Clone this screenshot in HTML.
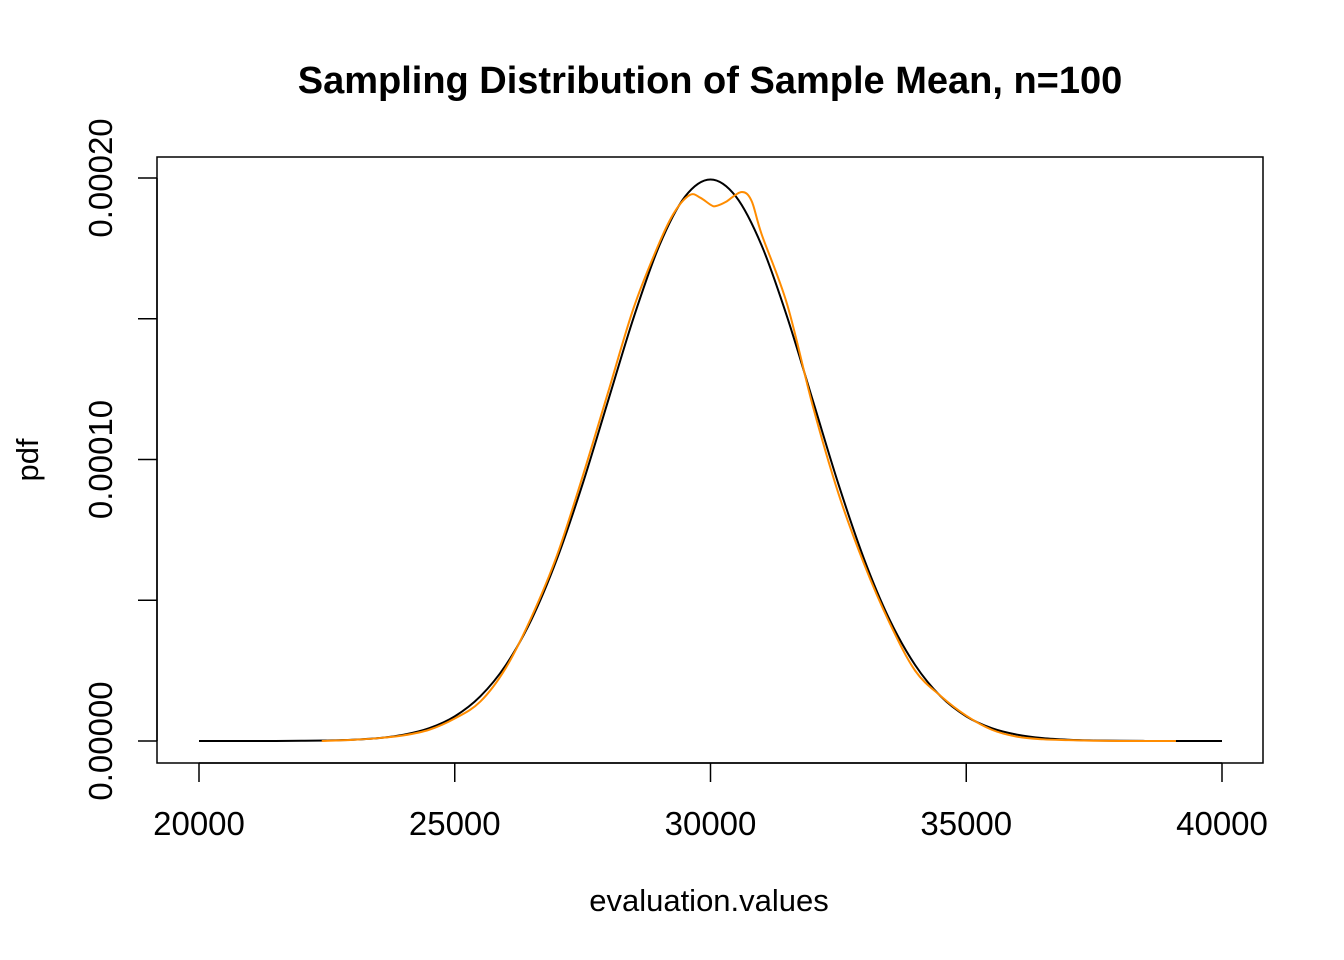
<!DOCTYPE html>
<html><head><meta charset="utf-8"><style>
html,body{margin:0;padding:0;background:#fff;}
svg{display:block;font-family:"Liberation Sans",Arial,sans-serif;}
</style></head><body>
<svg id="chart" width="1344" height="960" viewBox="0 0 1344 960">
<rect width="1344" height="960" fill="#fff"/>
<text x="710" y="93" text-anchor="middle" font-size="38" font-weight="bold">Sampling Distribution of Sample Mean, n=100</text>
<rect x="157" y="157" width="1106" height="606" fill="none" stroke="#000" stroke-width="1.5"/>
<g id="xaxis"></g>
<g id="yaxis"></g>
<text x="709" y="911" text-anchor="middle" font-size="31">evaluation.values</text>
<text transform="translate(38,460) rotate(-90)" text-anchor="middle" font-size="31">pdf</text>
<g id="series"></g>
</svg>
<script>
const xTicks=[20000,25000,30000,35000,40000];
const yTicks=[0,0.00005,0.0001,0.00015,0.0002];
const yTickLabels=["0.00000","","0.00010","","0.00020"];
const normalX=[20000,20500,21000,21500,22000,22500,23000,23500,24000,24500,25000,25500,26000,26500,27000,27500,28000,28500,29000,29500,30000,30500,31000,31500,32000,32500,33000,33500,34000,34500,35000,35500,36000,36500,37000,37500,38000,38500,39000,39500,40000];
const normalY=[0,0,0.00001,0.00002,0.00007,0.00018,0.00044,0.00101,0.00222,0.00454,0.00876,0.01587,0.02700,0.04315,0.06477,0.09132,0.12099,0.15057,0.17603,0.19333,0.19947,0.19333,0.17603,0.15057,0.12099,0.09132,0.06477,0.04315,0.02700,0.01587,0.00876,0.00454,0.00222,0.00101,0.00044,0.00018,0.00007,0.00002,0.00001,0,0].map(v=>v*0.001);
const kdeX=[22400,23000,23500,24000,24500,25000,25500,26000,26500,27000,27500,28000,28500,29000,29300,29600,29800,30000,30100,30300,30600,30800,31000,31500,32000,32500,33000,33500,34000,34500,35000,35500,36000,36500,37000,37500,38000,39100];
const kdeY=[0,0.0004,0.001,0.002,0.004,0.008,0.014,0.026,0.044,0.066,0.094,0.124,0.154,0.177,0.188,0.194,0.193,0.1905,0.190,0.1915,0.195,0.192,0.180,0.155,0.119,0.088,0.063,0.042,0.025,0.016,0.009,0.004,0.0015,0.0006,0.0003,0.0001,0,0].map(v=>v*0.001);
const X=v=>199+(v-20000)*(1222-199)/20000;
const Y=v=>741-v*(741-178)/0.0002;
const NS="http://www.w3.org/2000/svg";
function mk(t,a,p){const e=document.createElementNS(NS,t);for(const k in a)e.setAttribute(k,a[k]);p.appendChild(e);return e;}
const xa=document.getElementById('xaxis'),ya=document.getElementById('yaxis'),se=document.getElementById('series');
mk('line',{x1:X(xTicks[0]),x2:X(xTicks[xTicks.length-1]),y1:763,y2:763,stroke:'#000','stroke-width':1.5},xa);
xTicks.forEach(t=>{
 const l=mk('line',{x1:X(t),x2:X(t),y1:763,y2:782,stroke:'#000','stroke-width':1.5},xa);
 
 
 const tx=mk('text',{x:X(t),y:835,'text-anchor':'middle','font-size':33},xa);tx.textContent=t;
 
 
});
mk('line',{x1:157,x2:157,y1:Y(yTicks[0]),y2:Y(yTicks[yTicks.length-1]),stroke:'#000','stroke-width':1.5},ya);
yTicks.forEach((t,i)=>{
 const l=mk('line',{x1:138,x2:157,y1:Y(t),y2:Y(t),stroke:'#000','stroke-width':1.5},ya);
 
 
 if(yTickLabels[i]){const tx=mk('text',{transform:`translate(112,${Y(t)}) rotate(-90)`,'text-anchor':'middle','font-size':33},ya);tx.textContent=yTickLabels[i];
 
 }
});
function smooth(xs,ys){const p=xs.map((x,i)=>[X(x),Y(ys[i])]);let d=`M${p[0][0]},${p[0][1]}`;
 for(let i=0;i<p.length-1;i++){const a=p[Math.max(0,i-1)],b=p[i],c=p[i+1],e=p[Math.min(p.length-1,i+2)];
 const c1=[b[0]+(c[0]-a[0])/6,b[1]+(c[1]-a[1])/6],c2=[c[0]-(e[0]-b[0])/6,c[1]-(e[1]-b[1])/6];
 d+=`C${c1[0]},${c1[1]} ${c2[0]},${c2[1]} ${c[0]},${c[1]}`;}return d;}
const n=mk('path',{d:smooth(normalX,normalY),fill:'none',stroke:'#000','stroke-width':2},se);


const k=mk('path',{d:smooth(kdeX,kdeY),fill:'none',stroke:'#ff8c00','stroke-width':2},se);


</script>
</body></html>
